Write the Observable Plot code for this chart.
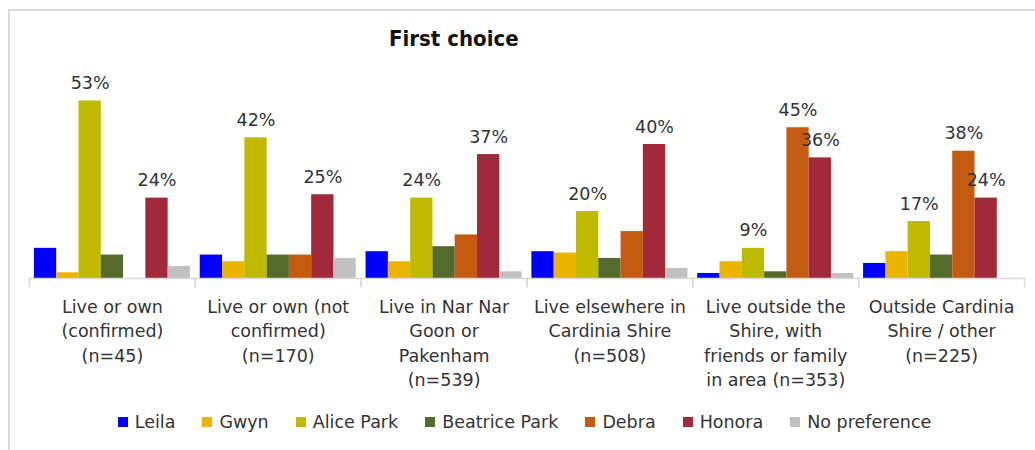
<!DOCTYPE html>
<html>
<head>
<meta charset="utf-8">
<script src="https://cdn.jsdelivr.net/npm/d3@7"></script>
<script src="https://cdn.jsdelivr.net/npm/@observablehq/plot@0.6"></script>
<style>
  html, body { margin: 0; padding: 0; background: #fff; }
  #wrap { position: relative; width: 1035px; height: 450px; overflow: hidden; font-family: "DejaVu Sans", sans-serif; }
  #border { position: absolute; left: 8px; top: 9px; width: 1100px; height: 500px; border-left: 2px solid #dadada; border-top: 2px solid #dadada; }
  #title { position: absolute; left: 389px; top: 28px; font-family: "DejaVu Sans Condensed", "DejaVu Sans", sans-serif; font-weight: bold; font-size: 22px; line-height: 1; color: #111; white-space: nowrap; }
  #chart { position: absolute; left: 0; top: 0; }
  #legend { position: absolute; left: 11px; top: 405px; width: 1054px; }
  #legend .lg-swatches { justify-content: center; }
  #legend .lg-swatch { margin-right: 27px !important; }
  #legend .lg-swatch > svg { margin-right: 7px !important; }
</style>
</head>
<body>
<div id="wrap">
  <div id="border"></div>
  <div id="chart"></div>
  <div id="title">First choice</div>
  <div id="legend"></div>
</div>
<script>
const groups = ["g1", "g2", "g3", "g4", "g5", "g6"];
const groupLabels = [
  "Live or own\n(confirmed)\n(n=45)",
  "Live or own (not\nconfirmed)\n(n=170)",
  "Live in Nar Nar\nGoon or\nPakenham\n(n=539)",
  "Live elsewhere in\nCardinia Shire\n(n=508)",
  "Live outside the\nShire, with\nfriends or family\nin area (n=353)",
  "Outside Cardinia\nShire / other\n(n=225)"
];
const series = ["Leila", "Gwyn", "Alice Park", "Beatrice Park", "Debra", "Honora", "No preference"];
const colors = ["#0000FF", "#EAB400", "#BFBA00", "#546B2E", "#C55A11", "#A2293A", "#C0C0C0"];

const leila        = [9,   7,  8,   8,   1.5, 4.5];
const gwyn         = [1.7, 5,  5,   7.6, 5,   8];
const alicePark    = [53,  42, 24,  20,  9,   17];
const beatricePark = [7,   7,  9.5, 6,   2,   7];
const debra        = [0,   7,  13,  14,  45,  38];
const honora       = [24,  25, 37,  40,  36,  24];
const noPreference = [3.6, 6,  2,   3,   1.5, 0];

const labeled = [
  ["Alice Park", "Honora"],
  ["Alice Park", "Honora"],
  ["Alice Park", "Honora"],
  ["Alice Park", "Honora"],
  ["Alice Park", "Debra", "Honora"],
  ["Alice Park", "Debra", "Honora"]
];

const seriesValues = [leila, gwyn, alicePark, beatricePark, debra, honora, noPreference];
const rows = [];
groups.forEach((g, gi) => {
  series.forEach((s, si) => {
    rows.push({group: g, series: s, value: seriesValues[si][gi], label: labeled[gi].includes(s)});
  });
});

const H = 400, marginTop = 77, marginBottom = 122;
const plotBottom = H - marginBottom;

const chart = Plot.plot({
  width: 1035,
  height: H,
  marginLeft: 29,
  marginRight: 11,
  marginTop,
  marginBottom,
  style: {fontFamily: "DejaVu Sans, sans-serif", fontSize: "17.5px", background: "transparent", overflow: "visible"},
  fx: {domain: groups, padding: 0, round: false, axis: null},
  x: {domain: series, paddingInner: 0, paddingOuter: 0.22, round: false, axis: null},
  y: {domain: [0, 60], axis: null},
  color: {domain: series, range: colors},
  marks: [
    Plot.barY(rows, {fx: "group", x: "series", y: "value", fill: "series"}),
    Plot.ruleY([0], {stroke: "#d9d9d9", strokeWidth: 1.5}),
    Plot.frame({anchor: "left", stroke: "#d9d9d9", strokeWidth: 1.5, insetTop: plotBottom - marginTop, insetBottom: -8}),
    Plot.frame({anchor: "right", stroke: "#d9d9d9", strokeWidth: 1.5, insetTop: plotBottom - marginTop, insetBottom: -8}),
    Plot.text(rows.filter(d => d.label), {
      fx: "group", x: "series", y: "value",
      text: d => Math.round(d.value) + "%",
      lineAnchor: "bottom", dy: -12, fontSize: 17.5, fill: "#333"
    }),
    Plot.text(groups, {
      fx: d => d,
      text: (d, i) => groupLabels[i],
      frameAnchor: "bottom", lineAnchor: "top", dy: 17, lineHeight: 1.4,
      fontSize: 17.5, fill: "#333"
    })
  ]
});
document.getElementById("chart").appendChild(chart);

const legend = Plot.legend({
  color: {type: "ordinal", domain: series, range: colors},
  legend: "swatches",
  swatchSize: 10,
  className: "lg",
  style: {fontFamily: "DejaVu Sans, sans-serif", fontSize: "17.5px", color: "#333"}
});
document.getElementById("legend").appendChild(legend);
</script>
</body>
</html>
